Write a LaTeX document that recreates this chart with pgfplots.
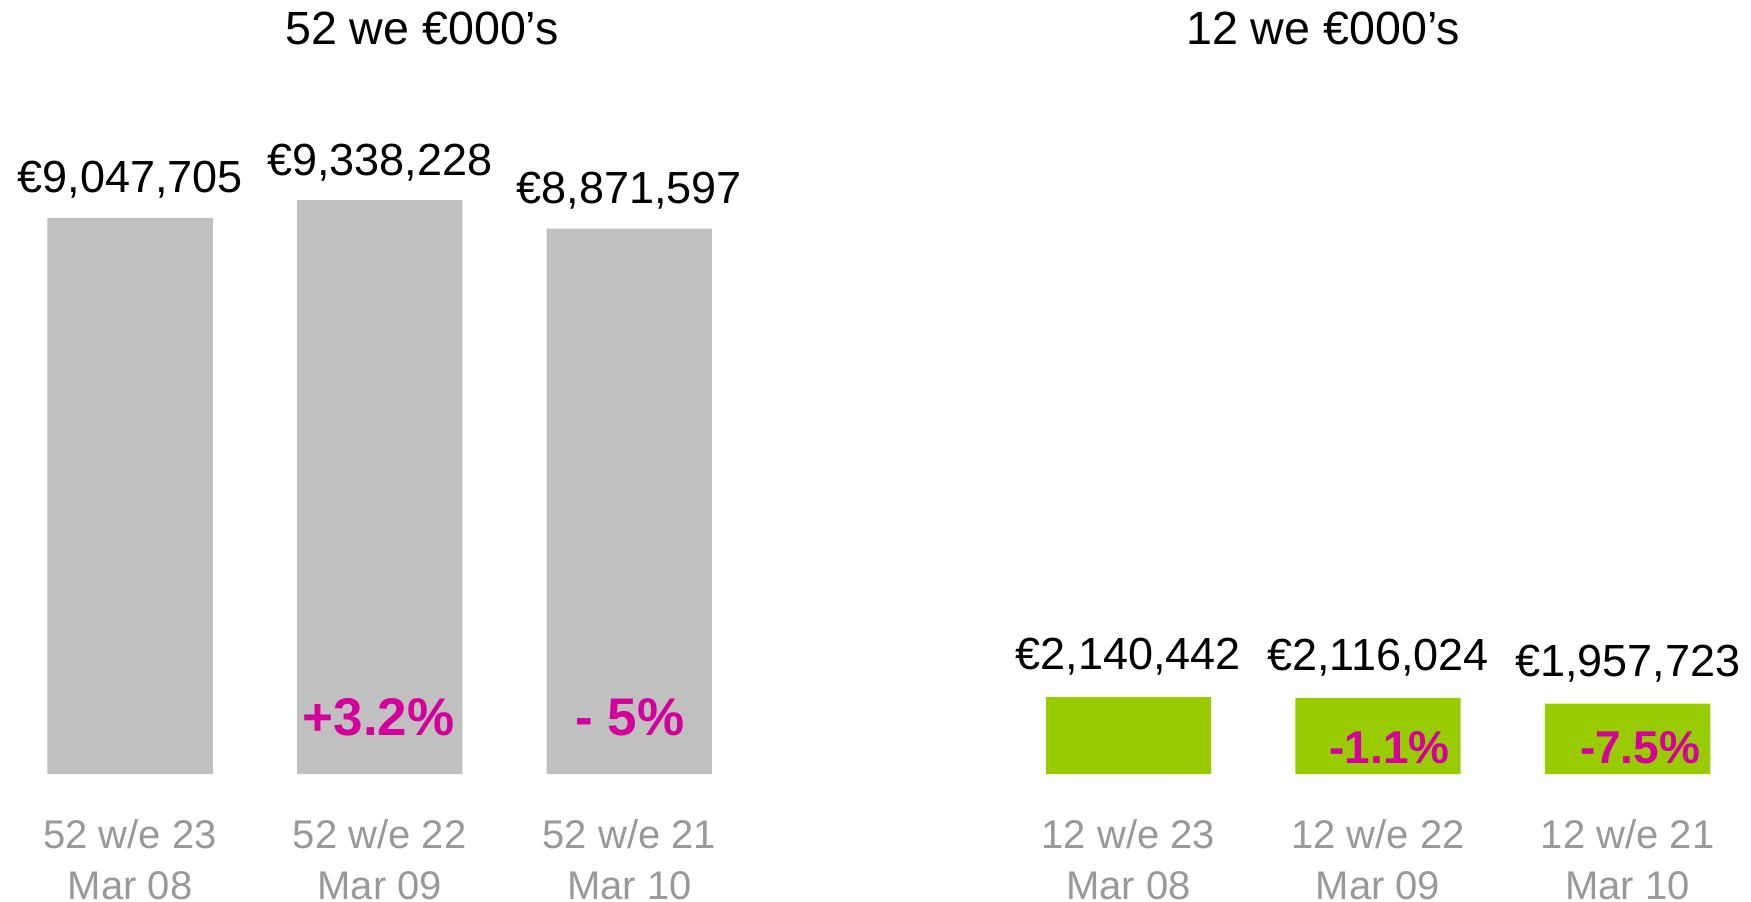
\documentclass[border=0pt]{standalone}
\usepackage{fontspec}
\setmainfont{Liberation Sans}
\usepackage{pgfplots}
\pgfplotsset{compat=1.18}
\definecolor{bargray}{HTML}{C0C0C0}
\definecolor{bargreen}{HTML}{99CC00}
\definecolor{pct}{HTML}{D5009B}
\definecolor{catgray}{HTML}{999999}
\pgfplotsset{
  mybars/.style={
    scale only axis, width=374.4pt, height=338.05pt,
    xmin=-0.5, xmax=2.5, ymin=0,
    axis line style={draw=none}, tick style={draw=none},
    ytick=\empty, xtick={0,1,2},
    xticklabel style={font=\fontsize{20}{25.5}\selectfont, text=catgray, align=center, anchor=north, inner sep=0pt, yshift=-18.5pt},
    ybar, bar width=82.65pt,
    clip=false,
    point meta=explicit symbolic,
    nodes near coords,
    every node near coord/.append style={anchor=base, yshift=12.5pt, font=\fontsize{22.5}{26}\selectfont, text=black},
  }
}
\begin{document}
\begin{tikzpicture}
\useasboundingbox (0,0) rectangle (875.5pt,450.5pt);
\node[anchor=base, font=\fontsize{23.3}{27}\selectfont] at (211pt,428pt) {52 we €000’s};
\node[anchor=base, font=\fontsize{23.3}{27}\selectfont] at (661.5pt,428pt) {12 we €000’s};
\begin{axis}[mybars, at={(2.65pt,63.5pt)}, anchor=south west, ymax=11000000,
  xticklabels={{52 w/e 23\\Mar 08},{52 w/e 22\\Mar 09},{52 w/e 21\\Mar 10}}]
\addplot[fill=bargray, draw=none] coordinates {(0,9047705) [€9,047,705] (1,9338228) [€9,338,228] (2,8871597) [€8,871,597]};
\node[anchor=base, font=\bfseries\fontsize{26.5}{30}\selectfont, text=pct] at ([xshift=-0.5pt,yshift=19.5pt]axis cs:1,0) {+3.2\%};
\node[anchor=base, font=\bfseries\fontsize{26.5}{30}\selectfont, text=pct] at ([xshift=0.25pt,yshift=19.5pt]axis cs:2,0) {- 5\%};
\end{axis}
\begin{axis}[mybars, at={(501.8pt,63.5pt)}, anchor=south west, ymax=18815000,
  every node near coord/.append style={yshift=1.2pt},
  xticklabels={{12 w/e 23\\Mar 08},{12 w/e 22\\Mar 09},{12 w/e 21\\Mar 10}}]
\addplot[fill=bargreen, draw=none] coordinates {(0,2140442) [€2,140,442] (1,2116024) [€2,116,024] (2,1957723) [€1,957,723]};
\node[anchor=base, font=\bfseries\fontsize{23}{27}\selectfont, text=pct] at ([xshift=5.75pt,yshift=5.5pt]axis cs:1,0) {-1.1\%};
\node[anchor=base, font=\bfseries\fontsize{23}{27}\selectfont, text=pct] at ([xshift=6.25pt,yshift=5.5pt]axis cs:2,0) {-7.5\%};
\end{axis}
\end{tikzpicture}
\end{document}
